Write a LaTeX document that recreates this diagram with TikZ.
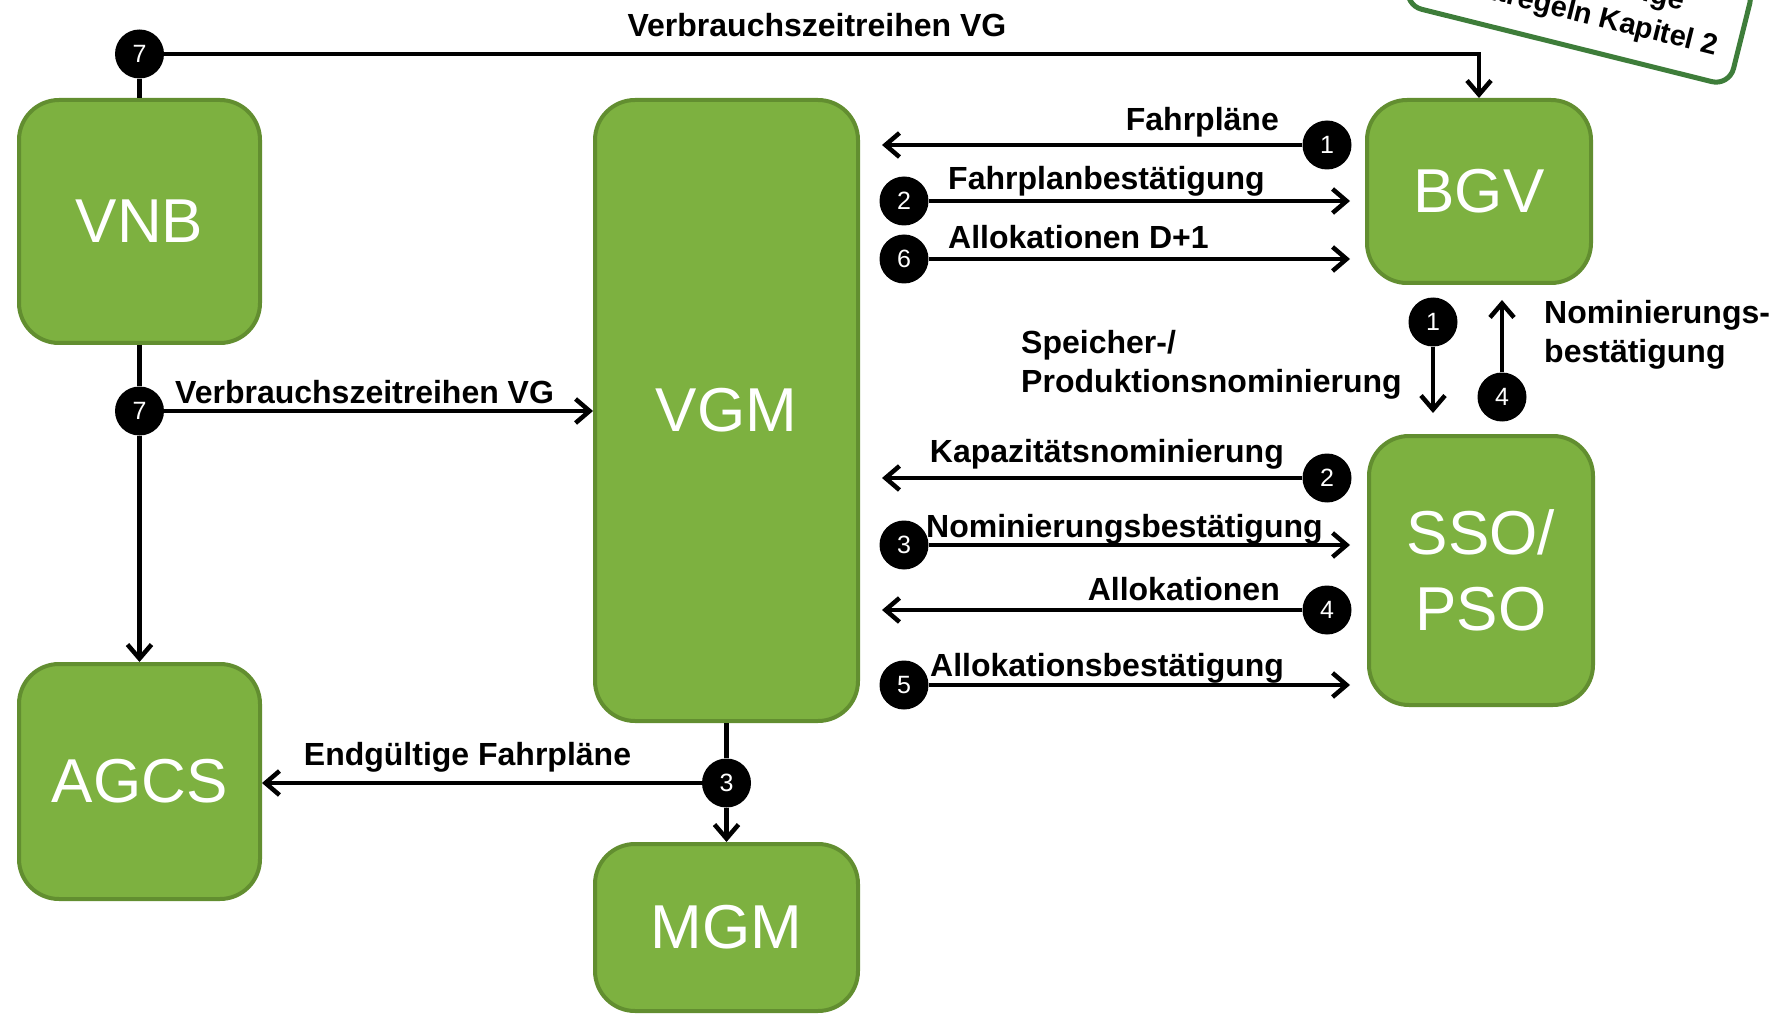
\documentclass[tikz,border=0pt]{standalone}
\usepackage{fontspec}
\setmainfont{Liberation Sans}
\usepackage{xcolor}
\usepackage{tikz}
\usetikzlibrary{positioning, arrows.meta, calc}

\definecolor{actorfill}{RGB}{125,177,64}
\definecolor{actorline}{RGB}{98,142,48}
\definecolor{remarkline}{RGB}{62,125,58}

\begin{document}
\begin{tikzpicture}[
        x=1pt, y=-1pt,
        actor/.style={draw=actorline, fill=actorfill, line width=4pt, rounded corners=40pt, rectangle, align=center, text=white, font=\fontsize{62}{76}\selectfont},
        badge/.style={circle, fill=black, text=white, minimum size=49pt, inner sep=0pt, font=\fontsize{25}{25}\selectfont},
        lbl/.style={inner sep=0pt, align=left, font=\fontsize{32}{39}\selectfont\bfseries},
        remark/.style={draw=remarkline, fill=white, line width=5pt, rounded corners=18pt, align=center, font=\fontsize{29}{36}\selectfont\bfseries},
        conn/.style={line width=4.5pt},
        arrow/.style={conn, -{Straight Barb[length=14pt, width=24pt]}}
    ]
    \useasboundingbox (0,0) rectangle (1789,1016);

    % --- Actors ---
    \node[actor, minimum width=241pt, minimum height=243pt] (vnb) at (139.5, 221.5) {VNB};
    \node[actor, minimum width=241pt, minimum height=235pt] (agcs) at (139.5, 781.5) {AGCS};
    \node[actor, minimum width=263pt, minimum height=621pt] (vgm) at (726.5, 410.5) {VGM};
    \node[actor, minimum width=263pt, minimum height=167pt] (mgm) at (726.5, 927.5) {MGM};
    \node[actor, minimum width=224pt, minimum height=183pt] (bgv) at (1479, 191.5) {BGV};
    \node[actor, minimum width=224pt, minimum height=269pt] (sso) at (1481, 570.5) {SSO/\\PSO};

    % --- Remark (cut by the page edge) ---
    \node[remark, rotate=-14, anchor=south east, minimum width=335pt, inner xsep=20pt, inner ysep=20pt] (hint) at (1731, 89) {Siehe Sonstige\\Marktregeln Kapitel 2};

    % --- Step badges ---
    \node[badge] (s7a) at (139.5, 54) {7};
    \node[badge] (s7b) at (139.5, 411) {7};
    \node[badge] (f1) at (1327, 145) {1};
    \node[badge] (f2) at (904, 201) {2};
    \node[badge] (f6) at (904, 259) {6};
    \node[badge] (n1) at (1433, 322) {1};
    \node[badge] (n4) at (1502, 397) {4};
    \node[badge] (k2) at (1327, 478) {2};
    \node[badge] (k3) at (904, 545) {3};
    \node[badge] (a4) at (1327, 610) {4};
    \node[badge] (a5) at (904, 685) {5};
    \node[badge] (e3) at (726.5, 783) {3};

    % --- VNB ---
    \draw[conn] (vnb) -- (s7a);
    \draw[arrow] (s7a) -| (bgv);
    \draw[conn] (vnb) -- (s7b);
    \draw[arrow] (s7b) -- (agcs);
    \draw[arrow] (s7b) -- (s7b -| vgm.west);

    % --- VGM <-> BGV ---
    \draw[arrow, shorten >=22pt] (f1) -- (f1 -| vgm.east);
    \draw[arrow, shorten >=15pt] (f2) -- (f2 -| bgv.west);
    \draw[arrow, shorten >=15pt] (f6) -- (f6 -| bgv.west);

    % --- BGV <-> SSO/PSO ---
    \draw[arrow, shorten >=21pt] (n1) -- (n1 |- sso.north);
    \draw[arrow, shorten >=15pt] (n4) -- (n4 |- bgv.south);

    % --- VGM <-> SSO/PSO ---
    \draw[arrow, shorten >=22pt] (k2) -- (k2 -| vgm.east);
    \draw[arrow, shorten >=17pt] (k3) -- (k3 -| sso.west);
    \draw[arrow, shorten >=22pt] (a4) -- (a4 -| vgm.east);
    \draw[arrow, shorten >=17pt] (a5) -- (a5 -| sso.west);

    % --- VGM -> MGM, AGCS ---
    \draw[conn] (vgm) -- (e3);
    \draw[arrow] (e3) -- (mgm);
    \draw[arrow] (e3) -- (e3 -| agcs.east);

    % --- Labels ---
    \node[lbl, anchor=base] (lvgtop) at (817, 37) {Verbrauchszeitreihen VG};
    \node[lbl, anchor=base west] (lvgmid) at (175, 403) {Verbrauchszeitreihen VG};
    \node[lbl, anchor=base east] (lfp) at (1279, 131) {Fahrpläne};
    \node[lbl, anchor=base west] (lfpb) at (948, 190) {Fahrplanbestätigung};
    \node[lbl, anchor=base west] (lalld) at (948, 249) {Allokationen D+1};
    \node[lbl, anchor=west] (lspn) at (1021, 365) {Speicher-/\\Produktionsnominierung};
    \node[lbl, anchor=west] (lnomb) at (1544, 335) {Nominierungs-\\bestätigung};
    \node[lbl, anchor=base east] (lkap) at (1284, 462) {Kapazitätsnominierung};
    \node[lbl, anchor=base west] (lnom) at (926, 537) {Nominierungsbestätigung};
    \node[lbl, anchor=base east] (lall) at (1280, 600) {Allokationen};
    \node[lbl, anchor=base west] (lallb) at (930, 676) {Allokationsbestätigung};
    \node[lbl, anchor=base] (lend) at (467.5, 765) {Endgültige Fahrpläne};

\end{tikzpicture}
\end{document}
